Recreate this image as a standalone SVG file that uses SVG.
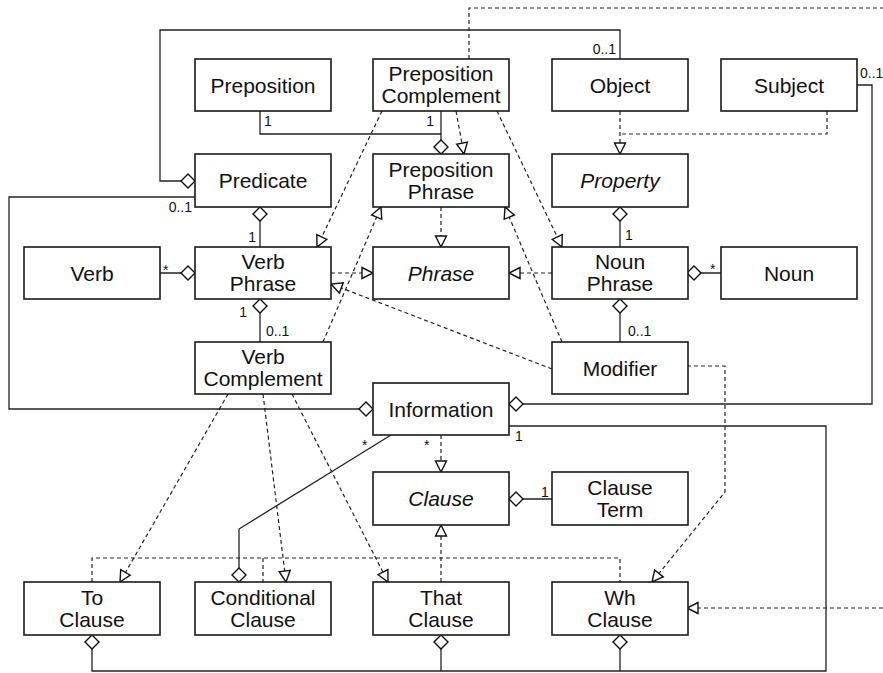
<svg xmlns="http://www.w3.org/2000/svg" width="883" height="673" viewBox="0 0 883 673">
<style>
.box{fill:#fff;stroke:#1a1a1a;stroke-width:1.6}
.t{font-family:"Liberation Sans",Arial,sans-serif;font-size:21px;fill:#111;text-anchor:middle}
.i{font-style:italic}
.l{font-family:"Liberation Sans",Arial,sans-serif;font-size:14px;fill:#111}
.e{text-anchor:end}
.s{fill:none;stroke:#222;stroke-width:1.3}
.d{fill:none;stroke:#222;stroke-width:1.2;stroke-dasharray:4 3}
</style>
<defs>
<marker id="tri" markerUnits="userSpaceOnUse" markerWidth="14" markerHeight="14" refX="12" refY="6" orient="auto" overflow="visible">
<path d="M1,0.5 L12,6 L1,11.5 Z" fill="#fff" stroke="#111" stroke-width="1.4" stroke-dasharray="none"/>
</marker>
<marker id="dia" markerUnits="userSpaceOnUse" markerWidth="16" markerHeight="16" refX="14" refY="7" orient="auto" overflow="visible">
<path d="M0,7 L7,0 L14,7 L7,14 Z" fill="#fff" stroke="#111" stroke-width="1.4" stroke-dasharray="none"/>
</marker>
</defs>
<rect width="883" height="673" fill="#fff"/>

<g id="connectors">
<path class="s" d="M620,59 V30 H160 V181 H195" marker-end="url(#dia)"/>
<path class="s" d="M260,111 V134 H441 V154" marker-end="url(#dia)"/>
<path class="s" d="M441,111 V134"/>
<path class="s" d="M857,85 H872 V404 H509" marker-end="url(#dia)"/>
<path class="s" d="M260,247 V207" marker-end="url(#dia)"/>
<path class="s" d="M195,197 H9 V409 H373" marker-end="url(#dia)"/>
<path class="s" d="M160,273 H195" marker-end="url(#dia)"/>
<path class="s" d="M260,342 V299" marker-end="url(#dia)"/>
<path class="s" d="M620,247 V207" marker-end="url(#dia)"/>
<path class="s" d="M721,273 H687" marker-end="url(#dia)"/>
<path class="s" d="M620,342 V299" marker-end="url(#dia)"/>
<path class="s" d="M509,426 H826 V671 H92 V635" marker-end="url(#dia)"/>
<path class="s" d="M441,671 V635" marker-end="url(#dia)"/>
<path class="s" d="M620,671 V635" marker-end="url(#dia)"/>
<path class="s" d="M391,435 L239,529 V582" marker-end="url(#dia)"/>
<path class="s" d="M552,499 H509" marker-end="url(#dia)"/>
<path class="d" d="M456,111 L464,154" marker-end="url(#tri)"/>
<path class="d" d="M382,111 L317,247" marker-end="url(#tri)"/>
<path class="d" d="M497,111 L562,247" marker-end="url(#tri)"/>
<path class="d" d="M469,59 V8 H890"/>
<path class="d" d="M890,608 H687" marker-end="url(#tri)"/>
<path class="d" d="M620,111 V154" marker-end="url(#tri)"/>
<path class="d" d="M827,111 V134 H620"/>
<path class="d" d="M323,342 L381,207" marker-end="url(#tri)"/>
<path class="d" d="M441,207 V247" marker-end="url(#tri)"/>
<path class="d" d="M331,273 H373" marker-end="url(#tri)"/>
<path class="d" d="M552,273 H509" marker-end="url(#tri)"/>
<path class="d" d="M552,369 L331,284" marker-end="url(#tri)"/>
<path class="d" d="M562,342 L505,207" marker-end="url(#tri)"/>
<path class="d" d="M687,366 H725 V492 L652,582" marker-end="url(#tri)"/>
<path class="d" d="M228,394 L120,582" marker-end="url(#tri)"/>
<path class="d" d="M263,394 L286,582" marker-end="url(#tri)"/>
<path class="d" d="M292,394 L388,582" marker-end="url(#tri)"/>
<path class="d" d="M441,435 V472" marker-end="url(#tri)"/>
<path class="d" d="M441,582 V525" marker-end="url(#tri)"/>
<path class="d" d="M92,582 V558 H620 V582"/>
<path class="d" d="M263,558 V582"/>
<text class="l e" x="616" y="54">0..1</text>
<text class="l" x="264" y="126">1</text>
<text class="l e" x="434" y="126">1</text>
<text class="l" x="860" y="78">0..1</text>
<text class="l e" x="256" y="242">1</text>
<text class="l e" x="192" y="212">0..1</text>
<text class="l" x="163" y="275">*</text>
<text class="l e" x="247" y="317">1</text>
<text class="l" x="266" y="336">0..1</text>
<text class="l" x="625" y="240">1</text>
<text class="l" x="710" y="274">*</text>
<text class="l" x="628" y="336">0..1</text>
<text class="l" x="515" y="441">1</text>
<text class="l" x="362" y="450">*</text>
<text class="l" x="424" y="450">*</text>
<text class="l" x="541" y="497">1</text>
</g>

<g id="Preposition"><rect class="box" x="195" y="59" width="136" height="52"/><text class="t" x="263" y="92.5">Preposition</text></g>
<g id="PrepositionComplement"><rect class="box" x="373" y="59" width="136" height="52"/><text class="t" x="441" y="81">Preposition</text><text class="t" x="441" y="103">Complement</text></g>
<g id="Object"><rect class="box" x="552" y="59" width="136" height="52"/><text class="t" x="620" y="92.5">Object</text></g>
<g id="Subject"><rect class="box" x="721" y="59" width="136" height="52"/><text class="t" x="789" y="92.5">Subject</text></g>
<g id="Predicate"><rect class="box" x="195" y="154" width="136" height="53"/><text class="t" x="263" y="188">Predicate</text></g>
<g id="PrepositionPhrase"><rect class="box" x="373" y="154" width="136" height="53"/><text class="t" x="441" y="176.5">Preposition</text><text class="t" x="441" y="198.5">Phrase</text></g>
<g id="Property"><rect class="box" x="552" y="154" width="136" height="53"/><text class="t i" x="620" y="188">Property</text></g>
<g id="Verb"><rect class="box" x="24" y="247" width="136" height="52"/><text class="t" x="92" y="280.5">Verb</text></g>
<g id="VerbPhrase"><rect class="box" x="195" y="247" width="136" height="52"/><text class="t" x="263" y="269">Verb</text><text class="t" x="263" y="291">Phrase</text></g>
<g id="Phrase"><rect class="box" x="373" y="247" width="136" height="52"/><text class="t i" x="441" y="280.5">Phrase</text></g>
<g id="NounPhrase"><rect class="box" x="552" y="247" width="136" height="52"/><text class="t" x="620" y="269">Noun</text><text class="t" x="620" y="291">Phrase</text></g>
<g id="Noun"><rect class="box" x="721" y="247" width="136" height="52"/><text class="t" x="789" y="280.5">Noun</text></g>
<g id="VerbComplement"><rect class="box" x="195" y="342" width="136" height="52"/><text class="t" x="263" y="364">Verb</text><text class="t" x="263" y="386">Complement</text></g>
<g id="Modifier"><rect class="box" x="552" y="342" width="136" height="52"/><text class="t" x="620" y="375.5">Modifier</text></g>
<g id="Information"><rect class="box" x="373" y="383" width="136" height="52"/><text class="t" x="441" y="416.5">Information</text></g>
<g id="Clause"><rect class="box" x="373" y="472" width="136" height="53"/><text class="t i" x="441" y="506">Clause</text></g>
<g id="ClauseTerm"><rect class="box" x="552" y="472" width="136" height="53"/><text class="t" x="620" y="494.5">Clause</text><text class="t" x="620" y="516.5">Term</text></g>
<g id="ToClause"><rect class="box" x="24" y="582" width="136" height="53"/><text class="t" x="92" y="604.5">To</text><text class="t" x="92" y="626.5">Clause</text></g>
<g id="ConditionalClause"><rect class="box" x="195" y="582" width="136" height="53"/><text class="t" x="263" y="604.5">Conditional</text><text class="t" x="263" y="626.5">Clause</text></g>
<g id="ThatClause"><rect class="box" x="373" y="582" width="136" height="53"/><text class="t" x="441" y="604.5">That</text><text class="t" x="441" y="626.5">Clause</text></g>
<g id="WhClause"><rect class="box" x="552" y="582" width="136" height="53"/><text class="t" x="620" y="604.5">Wh</text><text class="t" x="620" y="626.5">Clause</text></g>
</svg>
